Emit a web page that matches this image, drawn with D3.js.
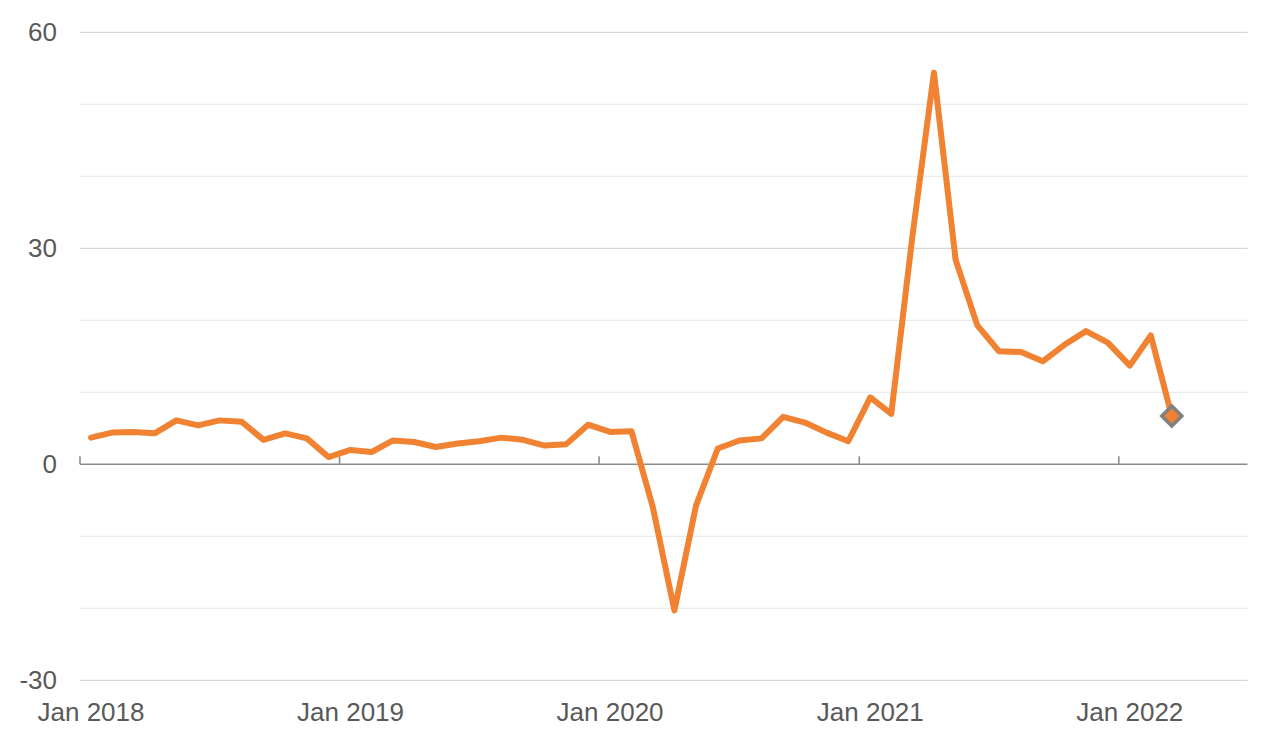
<!DOCTYPE html>
<html>
<head>
<meta charset="utf-8">
<script src="https://cdn.jsdelivr.net/npm/d3@7"></script>
<style>
  html, body { margin: 0; padding: 0; background: #fff; }
  svg { display: block; font-family: "Liberation Sans", Arial, sans-serif; }
</style>
</head>
<body>
<svg id="chart" width="1280" height="746"></svg>
<script>
// Monthly series, Jan 2018 .. Mar 2022
const months = [
  "2018-01","2018-02","2018-03","2018-04","2018-05","2018-06","2018-07","2018-08","2018-09","2018-10","2018-11","2018-12",
  "2019-01","2019-02","2019-03","2019-04","2019-05","2019-06","2019-07","2019-08","2019-09","2019-10","2019-11","2019-12",
  "2020-01","2020-02","2020-03","2020-04","2020-05","2020-06","2020-07","2020-08","2020-09","2020-10","2020-11","2020-12",
  "2021-01","2021-02","2021-03","2021-04","2021-05","2021-06","2021-07","2021-08","2021-09","2021-10","2021-11","2021-12",
  "2022-01","2022-02","2022-03"
];
const values = [
  3.7, 4.4, 4.5, 4.3, 6.1, 5.4, 6.1, 5.9, 3.4, 4.3, 3.6, 1.0,
  2.0, 1.7, 3.3, 3.1, 2.4, 2.9, 3.2, 3.7, 3.4, 2.6, 2.8, 5.5,
  4.5, 4.6, -5.9, -20.3, -5.7, 2.2, 3.3, 3.6, 6.6, 5.8, 4.4, 3.2,
  9.3, 7.0, 31.5, 54.4, 28.4, 19.3, 15.7, 15.6, 14.3, 16.6, 18.5, 16.9,
  13.7, 17.9, 6.7
];
const yMajorTicks = [-30, 0, 30, 60];
const yMinorTicks = [-20, -10, 10, 20, 40, 50];
const xTickLabels = ["Jan 2018", "Jan 2019", "Jan 2020", "Jan 2021", "Jan 2022"];
const xTickYears = [2018, 2019, 2020, 2021, 2022];

(function () {
const parse = d3.timeParse("%Y-%m");
const data = months.map((m, i) => ({ date: parse(m), value: values[i] }));

const svg = d3.select("#chart");
const mLeft = 80, mRight = 1247.5, mTop = 32.3, mBottom = 680.3;

const x = d3.scaleTime()
  .domain([new Date(2018, 0, 1), new Date(2022, 6, 1)])
  .range([mLeft, mRight]);
const y = d3.scaleLinear().domain([-30, 60]).range([mBottom, mTop]);

// mid-month position for each point
const midMonth = d => {
  const a = x(d), b = x(d3.timeMonth.offset(d, 1));
  return (a + b) / 2;
};

// gridlines
const g = svg.append("g");
g.selectAll("line.minor").data(yMinorTicks).join("line")
  .attr("class", "minor")
  .attr("x1", mLeft).attr("x2", mRight)
  .attr("y1", d => y(d)).attr("y2", d => y(d))
  .attr("stroke", "#ebebeb").attr("stroke-width", 1.3);
g.selectAll("line.major").data(yMajorTicks.filter(d => d !== 0)).join("line")
  .attr("class", "major")
  .attr("x1", mLeft).attr("x2", mRight)
  .attr("y1", d => y(d)).attr("y2", d => y(d))
  .attr("stroke", "#d6d6d6").attr("stroke-width", 1.3);

// y labels
svg.append("g").selectAll("text").data(yMajorTicks).join("text")
  .attr("x", 57).attr("y", d => y(d))
  .attr("dy", "0.35em")
  .attr("text-anchor", "end")
  .attr("font-size", 26)
  .attr("fill", "#595959")
  .text(d => d);

// zero axis line
svg.append("line")
  .attr("x1", mLeft).attr("x2", mRight)
  .attr("y1", y(0)).attr("y2", y(0))
  .attr("stroke", "#8c8c8c").attr("stroke-width", 1.6);

// year ticks (pointing up from zero line)
svg.append("g").selectAll("line").data(xTickYears).join("line")
  .attr("x1", d => x(new Date(d, 0, 1))).attr("x2", d => x(new Date(d, 0, 1)))
  .attr("y1", y(0)).attr("y2", y(0) - 8)
  .attr("stroke", "#8c8c8c").attr("stroke-width", 1.6);

// x labels
svg.append("g").selectAll("text").data(xTickYears).join("text")
  .attr("x", d => midMonth(new Date(d, 0, 1)))
  .attr("y", 721)
  .attr("text-anchor", "middle")
  .attr("font-size", 26)
  .attr("fill", "#595959")
  .text((d, i) => xTickLabels[i]);

// line
const line = d3.line()
  .x(d => midMonth(d.date))
  .y(d => y(d.value));
svg.append("path")
  .datum(data)
  .attr("fill", "none")
  .attr("stroke", "#f08232")
  .attr("stroke-width", 6)
  .attr("stroke-linejoin", "round")
  .attr("stroke-linecap", "round")
  .attr("d", line);

// last point diamond
const last = data[data.length - 1];
svg.append("path")
  .attr("d", d3.symbol().type(d3.symbolSquare).size(200)())
  .attr("transform", `translate(${midMonth(last.date)},${y(last.value)}) rotate(45)`)
  .attr("fill", "#f08232")
  .attr("stroke", "#808080")
  .attr("stroke-width", 3.5);
})();
</script>
</body>
</html>
